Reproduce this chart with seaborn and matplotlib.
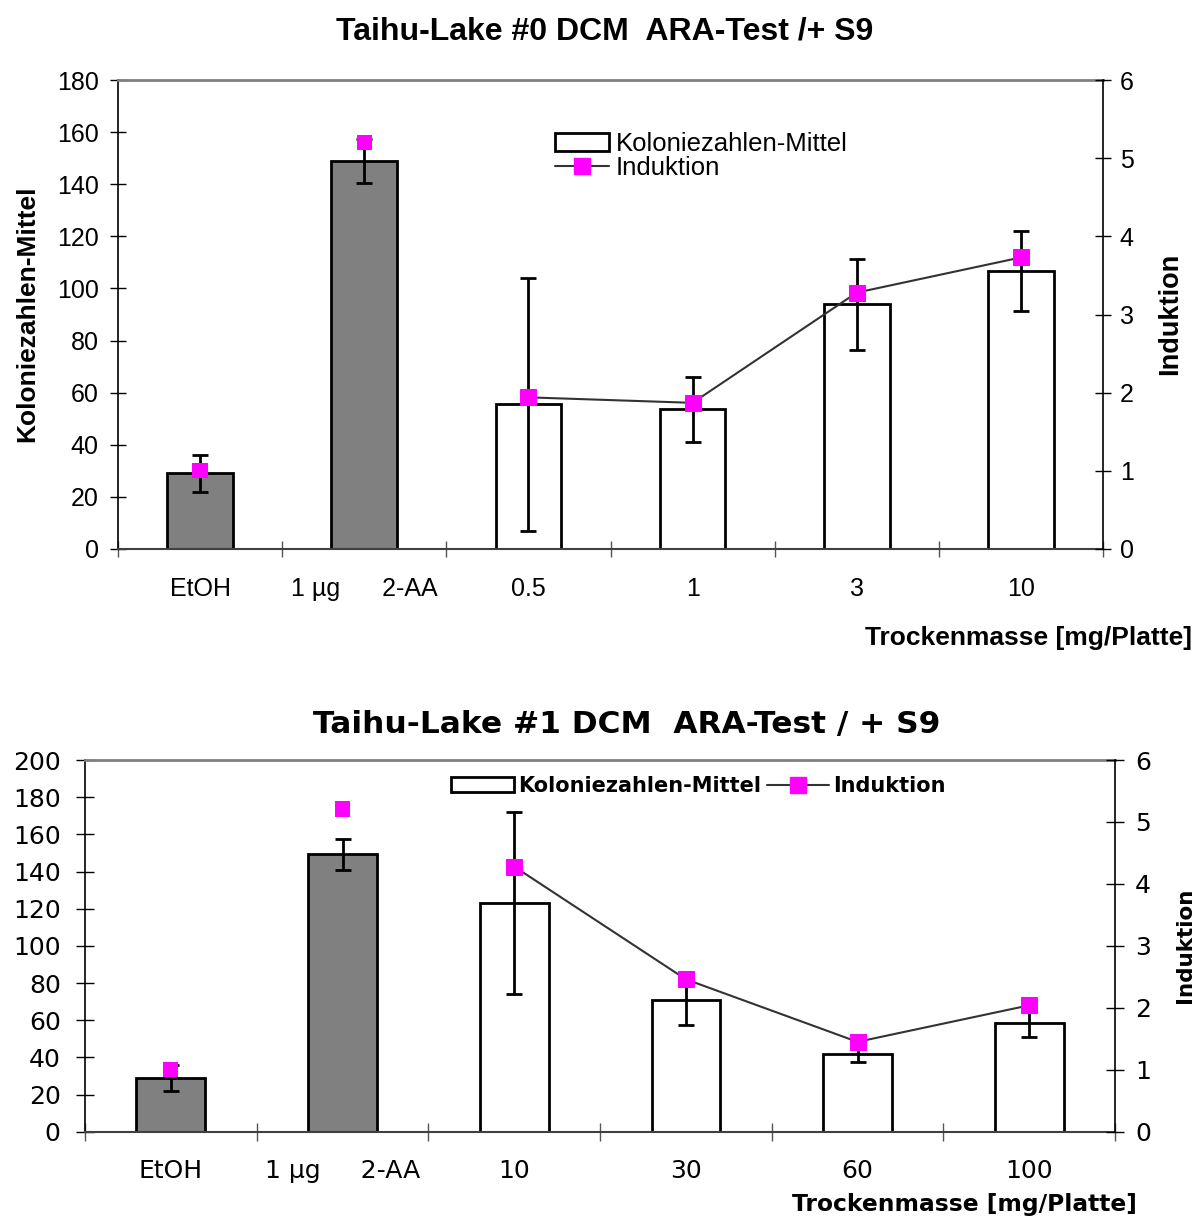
import numpy as np
import pandas as pd
import matplotlib
matplotlib.use("Agg")
import matplotlib.pyplot as plt
import seaborn as sns
from matplotlib.patches import Patch
from matplotlib.lines import Line2D
from matplotlib.ticker import MultipleLocator

# ---------------- data ----------------
top_title = "Taihu-Lake #0 DCM  ARA-Test /+ S9"
top_categories = ["EtOH", "1 µg      2-AA", "0.5", "1", "3", "10"]
top_colony_mean = [29.0, 149.0, 55.5, 53.7, 93.9, 106.7]
top_colony_err = [7.0, 8.5, 48.6, 12.5, 17.4, 15.2]
top_induction = [1.0, 5.2, 1.94, 1.87, 3.28, 3.73]

bottom_title = "Taihu-Lake #1 DCM  ARA-Test / + S9"
bottom_categories = ["EtOH", "1 µg     2-AA", "10", "30", "60", "100"]
bottom_colony_mean = [28.7, 149.3, 122.9, 70.9, 42.0, 58.7]
bottom_colony_err = [7.0, 8.3, 48.9, 13.5, 4.5, 7.6]
bottom_induction = [1.0, 5.21, 4.28, 2.46, 1.45, 2.04]

n_controls = 2  # EtOH and 2-AA are not connected by the induction line
series_bar = "Koloniezahlen-Mittel"
series_line = "Induktion"
xlabel_text = "Trockenmasse [mg/Platte]"

# ---------------- style ----------------
sns.set_theme(style="ticks")
plt.rcParams["font.family"] = ["Liberation Sans", "DejaVu Sans"]
for k in ["text.color", "axes.labelcolor", "xtick.color", "ytick.color", "axes.edgecolor"]:
    plt.rcParams[k] = "black"

W, H = 1198, 1217
fig = plt.figure(figsize=(W / 100, H / 100), dpi=100)


def fx(px):
    return px / W


def fy(py):
    return 1 - py / H


CTRL_COLOR = "#808080"
SAMPLE_COLOR = "white"
MAGENTA = "#ff00ff"
LINE_COLOR = "#333333"


def panel(rect, cats, mean, err, ind, ymax, family, fs, ylpad, yrpad, ticklen, xpad):
    ax = fig.add_axes(rect)
    df = pd.DataFrame({"cat": cats, "mean": mean, "err": err, "ind": ind})
    colors = {c: (CTRL_COLOR if i < n_controls else SAMPLE_COLOR) for i, c in enumerate(cats)}
    sns.barplot(data=df, x="cat", y="mean", hue="cat", palette=colors, legend=False,
                width=0.4, edgecolor="black", linewidth=2, saturation=1,
                errorbar=None, ax=ax)
    pos = np.arange(len(cats))
    ax.errorbar(pos, df["mean"].to_numpy(), yerr=df["err"].to_numpy(), fmt="none",
                ecolor="black", elinewidth=2, capsize=6, capthick=2, zorder=3)

    ax2 = ax.twinx()
    sns.lineplot(x=pos[n_controls:], y=df["ind"].to_numpy()[n_controls:], color=LINE_COLOR,
                 linewidth=1.5, marker="s", markersize=11, markerfacecolor=MAGENTA,
                 markeredgecolor=MAGENTA, ax=ax2)
    sns.scatterplot(x=pos[:n_controls], y=df["ind"].to_numpy()[:n_controls], marker="s",
                    color=MAGENTA, s=121, edgecolor="none", linewidth=0, ax=ax2, zorder=4)

    ax.set_xlim(-0.5, len(cats) - 0.5)
    ax.set_ylim(0, ymax)
    ax2.set_ylim(0, 6)
    ax.yaxis.set_major_locator(MultipleLocator(20))
    ax2.yaxis.set_major_locator(MultipleLocator(1))

    ax.set_xticks(pos)
    ax.set_xticklabels(cats)
    ax.set_xticks(np.arange(-0.5, len(cats)), minor=True)
    ax.tick_params(axis="x", which="major", length=0, pad=xpad, labelsize=fs,
                   labelfontfamily=family, labelcolor="black")
    ax.tick_params(axis="x", which="minor", length=ticklen, direction="inout",
                   width=1, color="#555555")
    ax.tick_params(axis="y", direction="inout", length=ticklen, width=1, pad=ylpad,
                   labelsize=fs, labelfontfamily=family, color="black",
                   labelcolor="black", left=True)
    ax2.tick_params(axis="y", direction="inout", length=ticklen, width=1, pad=yrpad,
                    labelsize=fs, labelfontfamily=family, color="black",
                    labelcolor="black", right=True)
    ax.set_xlabel("")
    ax.set_ylabel("")
    ax2.set_ylabel("")

    ax.spines["right"].set_visible(False)
    ax.spines["top"].set_visible(True)
    ax.spines["top"].set_color("#808080")
    ax.spines["top"].set_linewidth(2)
    ax.spines["bottom"].set_color("#404040")
    ax.spines["bottom"].set_linewidth(1.5)
    ax.spines["left"].set_color("black")
    ax.spines["left"].set_linewidth(1.2)
    for s in ["top", "bottom", "left"]:
        ax2.spines[s].set_visible(False)
    ax2.spines["right"].set_visible(True)
    ax2.spines["right"].set_color("black")
    ax2.spines["right"].set_linewidth(1.2)
    ax.grid(False)
    ax2.grid(False)
    return ax, ax2


# ---------------- top panel ----------------
top_rect = [fx(118), fy(549), fx(1103) - fx(118), fy(80) - fy(549)]
axA, axA2 = panel(top_rect, top_categories, top_colony_mean, top_colony_err, top_induction,
                  180, "Liberation Sans", 18, 8, 6, 12, 20)

fig.text(fx(605), fy(32), top_title, ha="center", va="center", fontsize=23,
         fontweight="bold", family="Liberation Sans")
fig.text(fx(27), fy(314), "Koloniezahlen-Mittel", ha="center", va="center", rotation=90,
         fontsize=19, fontweight="bold", family="Liberation Sans")
fig.text(fx(1170), fy(314), series_line, ha="center", va="center", rotation=90,
         fontsize=19.5, fontweight="bold", family="Liberation Sans")
fig.text(fx(1192), fy(638), xlabel_text, ha="right", va="center", fontsize=19,
         fontweight="bold", family="Liberation Sans")

handles = [Patch(facecolor="white", edgecolor="black", linewidth=2),
           Line2D([], [], color=LINE_COLOR, linewidth=1.5, marker="s", markersize=11,
                  markerfacecolor=MAGENTA, markeredgecolor=MAGENTA)]
axA2.legend(handles, [series_bar, series_line], loc="upper left",
            bbox_to_anchor=((555 - 118) / 985, (549 - 132) / 469), frameon=False,
            borderpad=0, borderaxespad=0, handlelength=2.1, handletextpad=0.25,
            labelspacing=0.0, prop={"family": "Liberation Sans", "size": 18.5})

# ---------------- bottom panel ----------------
bot_rect = [fx(85), fy(1131.7), fx(1115) - fx(85), fy(760) - fy(1131.7)]
axB, axB2 = panel(bot_rect, bottom_categories, bottom_colony_mean, bottom_colony_err,
                  bottom_induction, 200, "DejaVu Sans", 18, 11, 8, 13, 20)
fig.text(fx(627), fy(724), bottom_title, ha="center", va="center", fontsize=22.5,
         fontweight="bold", family="DejaVu Sans")
fig.text(fx(1185), fy(945), series_line, ha="center", va="center", rotation=90,
         fontsize=15.5, fontweight="bold", family="DejaVu Sans")
fig.text(fx(1137), fy(1204), xlabel_text, ha="right", va="center", fontsize=16.8,
         fontweight="bold", family="DejaVu Sans")

axB2.legend(handles, [series_bar, series_line], loc="upper left", ncol=2,
            bbox_to_anchor=((451 - 85) / 1030, (1131.7 - 776) / 371.7), frameon=False,
            borderpad=0, borderaxespad=0, handlelength=3.0, handletextpad=0.2,
            columnspacing=0.3,
            prop={"family": "DejaVu Sans", "size": 15, "weight": "bold"})

fig.savefig("out.png", dpi=100)
